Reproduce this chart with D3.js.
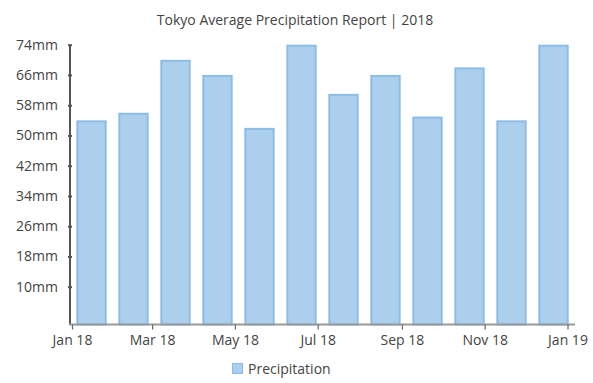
<!DOCTYPE html>
<html><head><meta charset="utf-8">
<script src="https://cdn.jsdelivr.net/npm/d3@7"></script>
<style>
html,body{margin:0;padding:0;background:#fff;}
svg{display:block;font-family:"Open Sans",sans-serif;}
</style></head>
<body><svg id="chart" width="593" height="383"></svg>
<script>
const title = "Tokyo Average Precipitation Report | 2018";
const months = ["2018-01","2018-02","2018-03","2018-04","2018-05","2018-06","2018-07","2018-08","2018-09","2018-10","2018-11","2018-12"];
const precipitation = [54, 56, 70, 66, 52, 74, 61, 66, 55, 68, 54, 74];
const yTicks = [10, 18, 26, 34, 42, 50, 58, 66, 74];
const xTickDates = ["2018-01-01","2018-03-01","2018-05-01","2018-07-01","2018-09-01","2018-11-01","2019-01-01"];
const seriesName = "Precipitation";

const svg = d3.select("#chart");
const parse = d3.timeParse("%Y-%m-%d");
const fmt = d3.timeFormat("%b %y");

const y = d3.scaleLinear().domain([0, 74]).range([324.5, 44.7]);
const xTime = d3.scaleTime().domain([parse("2018-01-01"), parse("2019-01-01")]).range([72, 567.5]);
const xBand = d3.scaleBand().domain(months).range([70.5, 574.5]).paddingInner(0.277).paddingOuter(0.1385);

// title
svg.append("text").attr("x", 295).attr("y", 25).attr("text-anchor", "middle")
  .attr("font-size", 14).attr("fill", "#444").text(title);

// bars
svg.append("g").selectAll("rect").data(precipitation).join("rect")
  .attr("x", (d, i) => xBand(months[i]) + 1)
  .attr("width", xBand.bandwidth() - 2)
  .attr("y", d => y(d) + 1)
  .attr("height", d => y(0) - y(d) - 1)
  .attr("fill", "#abcfed")
  .attr("stroke", "#8cbde6")
  .attr("stroke-width", 2);

// y axis
const yAxis = svg.append("g").attr("transform", "translate(70,0)")
  .call(d3.axisLeft(y).tickValues(yTicks).tickFormat(d => d + "mm").tickSize(2).tickPadding(10));
yAxis.select(".domain").attr("d", `M0,${y(74)}V${y(0)}`).attr("stroke", "#555").attr("stroke-width", 2);
yAxis.selectAll(".tick line").attr("x2", 2).attr("x1", -2).attr("stroke", "#555").attr("stroke-width", 2);
yAxis.selectAll(".tick text").attr("font-size", 14).attr("fill", "#444").attr("font-family", "Open Sans");

// x axis
const xAxis = svg.append("g").attr("transform", `translate(0,${y(0)})`)
  .call(d3.axisBottom(xTime).tickValues(xTickDates.map(parse)).tickFormat(fmt).tickSize(5).tickPadding(6));
xAxis.select(".domain").attr("d", `M69,0H575`).attr("stroke", "#999").attr("stroke-width", 2);
xAxis.selectAll(".tick line").attr("stroke", "#666").attr("stroke-width", 1.2);
xAxis.selectAll(".tick text").attr("font-size", 14).attr("fill", "#444").attr("font-family", "Open Sans");

// legend
const lg = svg.append("g");
lg.append("rect").attr("x", 232.5).attr("y", 363.5).attr("width", 10).attr("height", 10)
  .attr("fill", "#abcfed").attr("stroke", "#8cbde6").attr("stroke-width", 1);
lg.append("text").attr("x", 248).attr("y", 374).attr("font-size", 14).attr("fill", "#444").text(seriesName);
</script></body></html>
